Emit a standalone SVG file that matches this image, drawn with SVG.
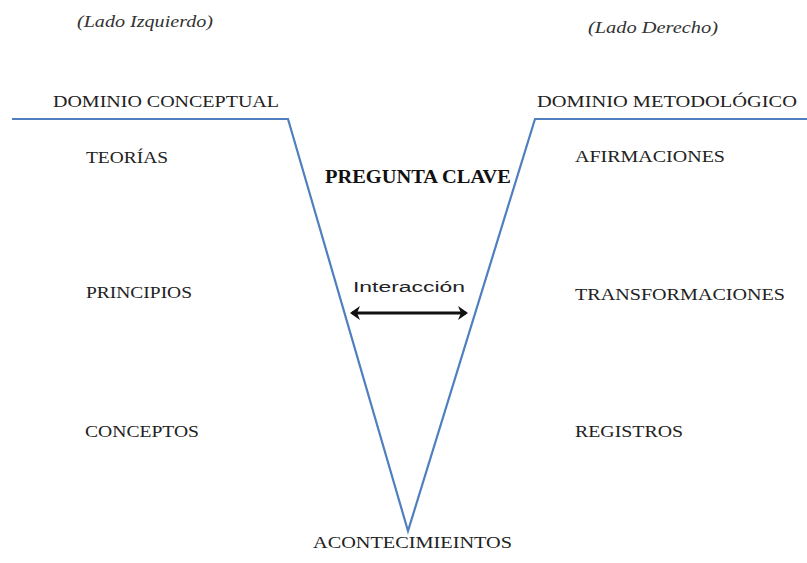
<svg xmlns="http://www.w3.org/2000/svg" width="807" height="563" viewBox="0 0 807 563">
<defs>
<marker id="ah" viewBox="0 0 10 14" refX="8" refY="7" markerWidth="10" markerHeight="14" orient="auto-start-reverse" markerUnits="userSpaceOnUse">
<path d="M0,0 L10,7 L0,14 L3,7 Z" fill="#111"/>
</marker>
<style>
.t{font-family:"Liberation Serif","Times New Roman",serif;font-size:17.5px;fill:#222}
.i{font-family:"Liberation Serif","Times New Roman",serif;font-size:16px;font-style:italic;fill:#333}
.b{font-family:"Liberation Serif","Times New Roman",serif;font-size:18px;font-weight:bold;fill:#111}
.s{font-family:"Liberation Sans",Arial,sans-serif;font-size:15.5px;fill:#222}
.v{fill:none;stroke:#4f7fbe;stroke-width:2.2;stroke-linejoin:miter}
</style>
</defs>
<rect width="807" height="563" fill="#fff"/>
<g id="connectors">
<path id="vshape" class="v" d="M12,119 L288,119 L408,531 L535,119 L807,119"/>
<line id="interaccion-arrow" x1="352" y1="313" x2="466" y2="313" stroke="#111" stroke-width="3" marker-start="url(#ah)" marker-end="url(#ah)"/>
</g>
<g id="lado-izquierdo"><text class="i" x="77" y="27" textLength="136" lengthAdjust="spacingAndGlyphs">(Lado Izquierdo)</text></g>
<g id="lado-derecho"><text class="i" x="588" y="33" textLength="130" lengthAdjust="spacingAndGlyphs">(Lado Derecho)</text></g>
<g id="dominio-conceptual"><text class="t" x="53" y="107" textLength="226" lengthAdjust="spacingAndGlyphs">DOMINIO CONCEPTUAL</text></g>
<g id="dominio-metodologico"><text class="t" x="537" y="107" textLength="260" lengthAdjust="spacingAndGlyphs">DOMINIO METODOLÓGICO</text></g>
<g id="teorias"><text class="t" x="86" y="163" textLength="82" lengthAdjust="spacingAndGlyphs">TEORÍAS</text></g>
<g id="principios"><text class="t" x="86" y="298" textLength="106" lengthAdjust="spacingAndGlyphs">PRINCIPIOS</text></g>
<g id="conceptos"><text class="t" x="85" y="437" textLength="114" lengthAdjust="spacingAndGlyphs">CONCEPTOS</text></g>
<g id="afirmaciones"><text class="t" x="575" y="162" textLength="150" lengthAdjust="spacingAndGlyphs">AFIRMACIONES</text></g>
<g id="transformaciones"><text class="t" x="575" y="300" textLength="210" lengthAdjust="spacingAndGlyphs">TRANSFORMACIONES</text></g>
<g id="registros"><text class="t" x="575" y="437" textLength="108" lengthAdjust="spacingAndGlyphs">REGISTROS</text></g>
<g id="pregunta-clave"><text class="b" x="325" y="183" textLength="186" lengthAdjust="spacingAndGlyphs">PREGUNTA CLAVE</text></g>
<g id="interaccion"><text class="s" x="353" y="292" textLength="112" lengthAdjust="spacingAndGlyphs">Interacción</text></g>
<g id="acontecimientos"><text class="t" x="313" y="548" textLength="199" lengthAdjust="spacingAndGlyphs">ACONTECIMIEINTOS</text></g>
</svg>
